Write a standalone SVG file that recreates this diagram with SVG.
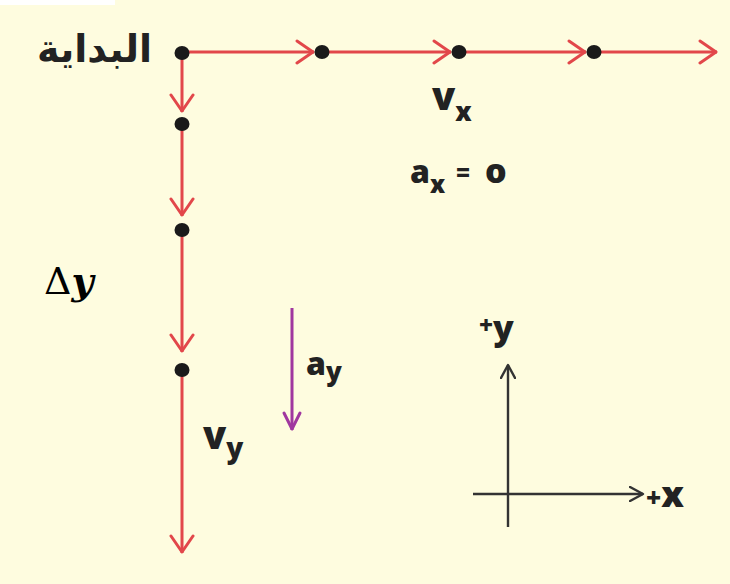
<svg xmlns="http://www.w3.org/2000/svg" width="730" height="584" viewBox="0 0 730 584">
<defs>
<marker id="redArrow" viewBox="0 0 22 26" refX="20" refY="13" markerWidth="22" markerHeight="26" markerUnits="userSpaceOnUse" orient="auto">
<path d="M3,2 L19,13 L3,24" fill="none" stroke="#e2474a" stroke-width="3" stroke-linecap="round" stroke-linejoin="round"/>
</marker>
<marker id="purpleArrow" viewBox="0 0 22 22" refX="20" refY="11" markerWidth="22" markerHeight="22" markerUnits="userSpaceOnUse" orient="auto">
<path d="M3,3 L19,11 L3,19" fill="none" stroke="#a0379f" stroke-width="3" stroke-linecap="round" stroke-linejoin="round"/>
</marker>
<marker id="blackArrow" viewBox="0 0 16 16" refX="14" refY="8" markerWidth="16" markerHeight="16" markerUnits="userSpaceOnUse" orient="auto">
<path d="M1,1 L14,8 L1,15" fill="none" stroke="#333" stroke-width="2.4" stroke-linecap="round" stroke-linejoin="round"/>
</marker>
</defs>
<style>
.red{stroke:#e2474a;stroke-width:3;fill:none}
.ax{stroke:#333;stroke-width:2.4;fill:none}
.dot{fill:#1a1a1a}
.lbl{font-family:"Open Sans","Liberation Sans",sans-serif;font-weight:800;fill:#222}
</style>
<rect x="0" y="0" width="730" height="584" fill="#fefcdf"/>
<rect x="0" y="0" width="115" height="5" fill="#ffffff"/>
<g id="connectors">
<line class="red" x1="182" y1="52" x2="314" y2="52" marker-end="url(#redArrow)"/>
<line class="red" x1="322" y1="52" x2="451" y2="52" marker-end="url(#redArrow)"/>
<line class="red" x1="459" y1="52" x2="586" y2="52" marker-end="url(#redArrow)"/>
<line class="red" x1="594" y1="52" x2="717" y2="52" marker-end="url(#redArrow)"/>
<line class="red" x1="182" y1="53" x2="182" y2="112" marker-end="url(#redArrow)"/>
<line class="red" x1="182" y1="124" x2="182" y2="216" marker-end="url(#redArrow)"/>
<line class="red" x1="182" y1="230" x2="182" y2="352" marker-end="url(#redArrow)"/>
<line class="red" x1="182" y1="370" x2="182" y2="553" marker-end="url(#redArrow)"/>
<line x1="292" y1="308" x2="292" y2="430" stroke="#a0379f" stroke-width="3" marker-end="url(#purpleArrow)"/>
<line class="ax" x1="508" y1="527" x2="508" y2="365" marker-end="url(#blackArrow)"/>
<line class="ax" x1="473" y1="494" x2="643" y2="494" marker-end="url(#blackArrow)"/>
</g>
<g id="start">
<ellipse class="dot" cx="182" cy="53" rx="7.5" ry="7"/>
<text x="152" y="62" font-size="38" font-weight="bold" text-anchor="end" fill="#222" font-family="'DejaVu Sans','Noto Sans',sans-serif">البداية</text>
</g>
<g id="dots">
<ellipse class="dot" cx="322" cy="52" rx="7.5" ry="7"/>
<ellipse class="dot" cx="459" cy="52" rx="7.5" ry="7"/>
<ellipse class="dot" cx="594" cy="52" rx="7.5" ry="7"/>
<ellipse class="dot" cx="182" cy="124" rx="7.5" ry="7"/>
<ellipse class="dot" cx="182" cy="230" rx="7.5" ry="7"/>
<ellipse class="dot" cx="182" cy="370" rx="7.5" ry="7"/>
</g>
<g id="vx"><text class="lbl" x="432" y="110" font-size="38">v<tspan font-size="26" dy="11">x</tspan></text></g>
<g id="ax"><text class="lbl" x="410" y="183" font-size="32">a<tspan font-size="24" dy="10">x</tspan><tspan x="456" dy="-12" font-size="24">=</tspan><tspan x="485" dy="2" font-size="34">o</tspan></text></g>
<g id="dy"><text x="44" y="294" font-size="38" font-family="'DejaVu Serif','Liberation Serif',serif" fill="#000">Δ<tspan font-style="italic" font-weight="bold">y</tspan></text></g>
<g id="ay"><text class="lbl" x="306" y="375" font-size="32">a<tspan font-size="26" dy="6">y</tspan></text></g>
<g id="vy"><text class="lbl" x="203" y="449" font-size="38">v<tspan font-size="28" dy="9">y</tspan></text></g>
<g id="plusy"><text class="lbl" x="479" y="340" font-size="34"><tspan font-size="24" dy="-6">+</tspan><tspan dy="6">y</tspan></text></g>
<g id="plusx"><text class="lbl" x="646" y="507" font-size="36"><tspan font-size="26">+</tspan>x</text></g>
</svg>
